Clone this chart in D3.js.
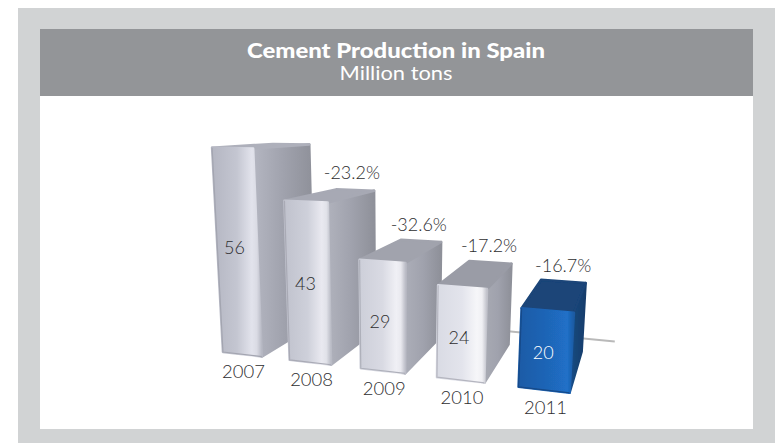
<!DOCTYPE html>
<html><head><meta charset="utf-8">
<script src="https://cdnjs.cloudflare.com/ajax/libs/d3/7.8.5/d3.min.js"></script>
<style>html,body{margin:0;padding:0;background:#fff}svg{display:block}text{font-family:Lato,"Open Sans",sans-serif}</style>
</head><body><svg id="c" width="775" height="443"></svg>
<script>
const years = ["2007","2008","2009","2010","2011"];
const values = [56,43,29,24,20];
const changes = [null,"-23.2%","-32.6%","-17.2%","-16.7%"];
const title = "Cement Production in Spain";
const subtitle = "Million tons";

const svg = d3.select("#c");
const defs = svg.append("defs");
defs.append("filter").attr("id","soft").attr("x","-10%").attr("y","-10%").attr("width","120%").attr("height","120%")
  .append("feGaussianBlur").attr("stdDeviation",0.6);

// panel
svg.append("rect").attr("x",18).attr("y",8).attr("width",757).attr("height",435).attr("fill","#d1d3d4");
svg.append("rect").attr("x",40).attr("y",96).attr("width",713).attr("height",333).attr("fill","#fff");
svg.append("rect").attr("x",40).attr("y",29).attr("width",713).attr("height",67).attr("fill","#939598");
svg.append("text").attr("x",396).attr("y",58).attr("text-anchor","middle").attr("fill","#fff")
  .attr("font-size",20).attr("font-weight",900).attr("textLength",298).attr("lengthAdjust","spacingAndGlyphs").text(title);
svg.append("text").attr("x",396).attr("y",80).attr("text-anchor","middle").attr("fill","#fff")
  .attr("font-size",19).attr("font-weight",400).attr("textLength",113).attr("lengthAdjust","spacingAndGlyphs").text(subtitle);

// scales: category slot and value height in world units, then a perspective camera
const slot = d3.scalePoint().domain(years).range([0,4]);
const height = d3.scaleLinear().domain([0,56]).range([0,56]);
const labelLevel = d3.scaleLinear().domain([20,29,43,56]).range([0.47,0.46,0.5,0.53]);
const barW = 0.6, depthVP = [650,120], depthT = 0.155;
function project(X,Y,Z){
  const D = 1-0.0316*X-0.00107*Y+depthT*Z;
  return [(222+57.6*X-0.4226*Y+depthT*Z*depthVP[0])/D,
          (353-3.5*X-3.836*Y+depthT*Z*depthVP[1])/D];
}
const poly = pts => "M"+pts.map(p=>p[0].toFixed(2)+","+p[1].toFixed(2)).join("L")+"Z";

// axis line behind the bars
svg.append("path").attr("d",d3.line()([project(0,0,1.4),project(5.0,0,1.4)]))
  .attr("stroke","#b9b9b9").attr("stroke-width",2).attr("fill","none");

function grad(id,x2,y2,stops){
  const g=defs.append("linearGradient").attr("id",id).attr("x1",0).attr("y1",0).attr("x2",x2).attr("y2",y2);
  stops.forEach(s=>g.append("stop").attr("offset",s[0]).attr("stop-color",s[1]));
  return `url(#${id})`;
}
const shade = d3.scaleLinear().domain([0,4]).range([0,1]);
const ix = 0.005, iy = 0.2, iz = 0.01; // small inset: round strokes give soft bevelled corners
years.forEach((yr,i)=>{
  const X=slot(yr), Y=height(values[i]), blue=i===4, t=shade(i);
  const mix=(a,b)=>d3.interpolateRgb(a,b)(Math.min(1,t*1.35));
  const frontFill = blue
    ? grad("f"+i,1,0,[[0,"#1d5ba6"],[0.55,"#1f66b8"],[0.88,"#2070c8"],[1,"#1a5aa2"]])
    : grad("f"+i,1,0,[[0,mix("#b4b6c2","#d9dbe4")],[0.5,mix("#c4c6d1","#e3e4ec")],[0.8,mix("#e2e3ec","#f6f6f9")],[0.9,mix("#dadbe4","#f0f0f4")],[1,mix("#b6b8c3","#bfc0c9")]]);
  const sideFill = blue
    ? grad("s"+i,1,0,[[0,"#1a5092"],[0.35,"#174679"],[1,"#163c6b"]])
    : grad("s"+i,1,0,[[0,mix("#b4b6c1","#a8aab3")],[0.5,"#a0a2ad"],[1,"#8e9099"]]);
  const topFill = blue ? "#1a4478" : mix("#aeb0bb","#9a9ca6");
  const g=svg.append("g").attr("filter","url(#soft)");
  const x0=X+ix, x1=X+barW-ix, y1=Y-iy, z0=iz, z1=1-iz, yb=iy;
  const front=[project(x0,yb,z0),project(x1,yb,z0),project(x1,y1,z0),project(x0,y1,z0)];
  const side=[project(x1,yb,z0),project(x1,yb,z1),project(x1,y1,z1),project(x1,y1,z0)];
  const top=[project(x0,y1,z0),project(x1,y1,z0),project(x1,y1,z1),project(x0,y1,z1)];
  const face=(pts,fill)=>g.append("path").attr("d",poly(pts)).attr("fill",fill)
    .attr("stroke",fill).attr("stroke-width",2.5).attr("stroke-linejoin","round");
  face(side,sideFill); face(top,topFill); face(front,frontFill);
  // thin darker rim along the left and bottom of the front face
  g.append("path").attr("d",d3.line()([front[3],front[0],front[1]])).attr("fill","none")
    .attr("stroke",blue?"#174a88":mix("#a3a5b0","#b4b5bf")).attr("stroke-width",1.2).attr("stroke-linejoin","round");

  const c=project(X+barW/2,Y*labelLevel(values[i]),0);
  svg.append("text").attr("x",c[0]-2).attr("y",c[1]+6).attr("text-anchor","middle")
    .attr("font-size",18).attr("font-weight",300).attr("fill",blue?"#fff":"#2e2e30").text(values[i]);
  const b=project(X+barW/2,0,0);
  svg.append("text").attr("x",b[0]+2).attr("y",b[1]+23).attr("text-anchor","middle")
    .attr("font-size",18.5).attr("font-weight",300).attr("fill","#2e2e30").text(yr);
  if(changes[i]){
    const k=project(X+barW,Y,1);
    svg.append("text").attr("x",k[0]-23).attr("y",k[1]-10.5).attr("text-anchor","middle")
      .attr("font-size",18).attr("font-weight",300).attr("fill","#2e2e30").text(changes[i]);
  }
});
</script></body></html>
